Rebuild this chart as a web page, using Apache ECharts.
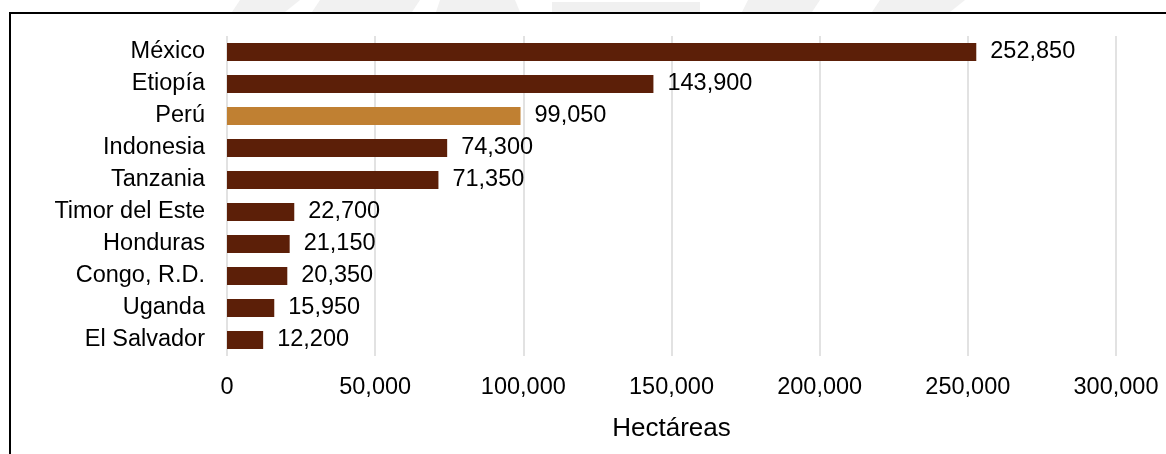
<!DOCTYPE html>
<html>
<head>
<meta charset="utf-8">
<script src="https://cdn.jsdelivr.net/npm/echarts@6/dist/echarts.min.js"></script>
<style>
  html, body { margin: 0; padding: 0; background: #fff; }
  #chart { width: 1166px; height: 454px; }
</style>
</head>
<body>
<div id="chart"></div>
<script>
// Coffee-growing area by country (hectares)
const countries = ['México', 'Etiopía', 'Perú', 'Indonesia', 'Tanzania',
  'Timor del Este', 'Honduras', 'Congo, R.D.', 'Uganda', 'El Salvador'];
const hectares = [252850, 143900, 99050, 74300, 71350, 22700, 21150, 20350, 15950, 12200];
const highlighted = 'Perú';

const axisMin = 0;
const axisMax = 300000;
const axisStep = 50000;
const axisTitle = 'Hectáreas';

const DARK = '#5c1f08';
const GOLD = '#c08032';
const FONT = 'Liberation Sans, Arial, sans-serif';

const fmt = v => v.toLocaleString('en-US');

const chart = echarts.init(document.getElementById('chart'), null, { renderer: 'canvas' });

chart.setOption({
  backgroundColor: '#fff',
  animation: false,
  textStyle: { fontFamily: FONT },
  graphic: [
    // faint background emblem strip above the frame
    { type: 'polygon', silent: true, shape: { points: [[240, 0], [300, 0], [285, 12], [232, 12]] }, style: { fill: '#f1f1f1' } },
    { type: 'polygon', silent: true, shape: { points: [[320, 0], [420, 0], [412, 12], [312, 12]] }, style: { fill: '#f1f1f1' } },
    { type: 'polygon', silent: true, shape: { points: [[440, 0], [515, 0], [520, 12], [436, 12]] }, style: { fill: '#f1f1f1' } },
    { type: 'rect', silent: true, shape: { x: 552, y: 2, width: 148, height: 10 }, style: { fill: '#f0f0f0' } },
    { type: 'polygon', silent: true, shape: { points: [[748, 0], [820, 0], [812, 12], [742, 12]] }, style: { fill: '#f1f1f1' } },
    { type: 'polygon', silent: true, shape: { points: [[880, 0], [965, 0], [950, 12], [872, 12]] }, style: { fill: '#f1f1f1' } },
    // chart frame
    {
      type: 'rect', silent: true, z: 100,
      shape: { x: 10, y: 13, width: 1200, height: 500 },
      style: { fill: null, stroke: '#000', lineWidth: 2 }
    }
  ],
  grid: { left: 227, right: 50, top: 36, bottom: 98, containLabel: false },
  xAxis: {
    type: 'value',
    min: axisMin,
    max: axisMax,
    interval: axisStep,
    name: axisTitle,
    nameLocation: 'middle',
    nameGap: 60,
    nameTextStyle: { fontSize: 26, color: '#000', fontFamily: FONT },
    axisLine: { show: false },
    axisTick: { show: false },
    axisLabel: {
      fontSize: 23.5, color: '#000', margin: 20, fontFamily: FONT,
      formatter: v => fmt(v)
    },
    splitLine: { show: true, lineStyle: { color: '#d9d9d9', width: 1.5 } }
  },
  yAxis: {
    type: 'category',
    data: countries,
    inverse: true,
    axisLine: { show: false },
    axisTick: { show: false },
    axisLabel: { fontSize: 23.5, color: '#000', margin: 22, fontFamily: FONT },
    splitLine: { show: false }
  },
  series: [{
    type: 'bar',
    data: hectares.map((v, i) => ({
      value: v,
      itemStyle: { color: countries[i] === highlighted ? GOLD : DARK }
    })),
    barWidth: 18,
    label: {
      show: true,
      position: 'right',
      distance: 14,
      fontSize: 23.5,
      color: '#000',
      fontFamily: FONT,
      formatter: p => fmt(p.value)
    }
  }]
});
</script>
</body>
</html>
